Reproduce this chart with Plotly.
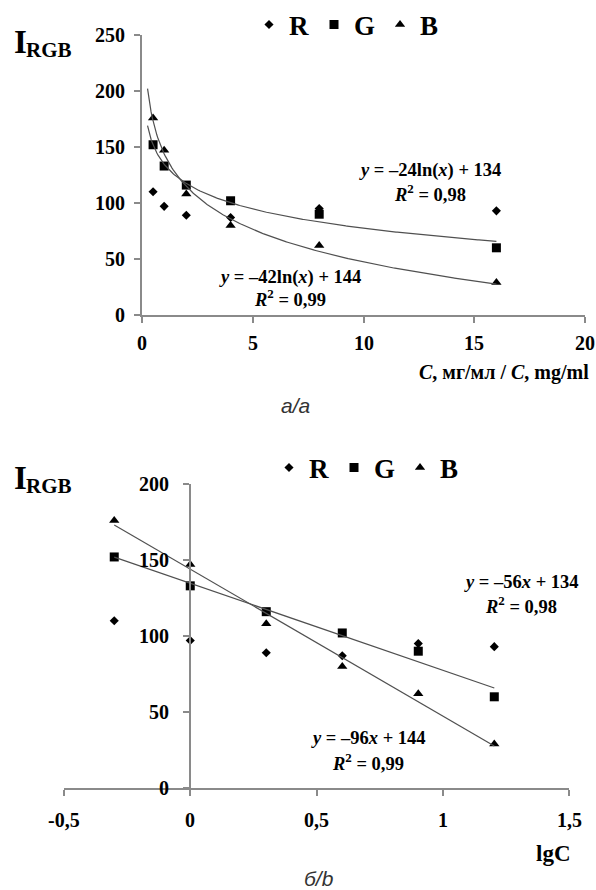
import numpy as np
import plotly.graph_objects as go

# ---------------- data ----------------
conc = [0.5, 1, 2, 4, 8, 16]                 # C, mg/ml
R_vals = [110, 97, 89, 87, 95, 93]
G_vals = [152, 133, 116, 102, 90, 60]
B_vals = [176, 147, 108, 80, 62, 29]

top_x_ticks = [0, 5, 10, 15, 20]
top_y_ticks = [0, 50, 100, 150, 200, 250]
bot_x_ticks = [-0.5, 0, 0.5, 1, 1.5]
bot_x_labels = ["-0,5", "0", "0,5", "1", "1,5"]
bot_y_ticks = [0, 50, 100, 150, 200]

series_names = ["R", "G", "B"]
series_vals = [R_vals, G_vals, B_vals]
symbols = ["diamond", "square", "triangle-up"]
sizes = [7, 9, 9]

W, H = 596, 890
SERIF = "Liberation Serif"
TICK_SIZE = 20

def px_x(p):
    return p / W

def px_y(p):
    return 1 - p / H

lg_conc = np.log10(conc)
ln_conc = np.log(conc)

fig = go.Figure()

# ---------------- top chart: I vs C ----------------
for name, vals, sym, sz in zip(series_names, series_vals, symbols, sizes):
    fig.add_trace(go.Scatter(
        x=conc, y=vals, mode="markers", name="<b>%s</b>" % name,
        marker=dict(symbol=sym, size=sz, color="black"),
        xaxis="x", yaxis="y", legend="legend", cliponaxis=False))

curve_x = np.linspace(0.25, 16, 300)
for vals in (G_vals, B_vals):
    k, b = np.polyfit(ln_conc, vals, 1)
    fig.add_trace(go.Scatter(
        x=curve_x, y=k * np.log(curve_x) + b, mode="lines",
        line=dict(color="#505050", width=1.2), showlegend=False,
        hoverinfo="skip", xaxis="x", yaxis="y"))

# ---------------- bottom chart: I vs lgC ----------------
for name, vals, sym, sz in zip(series_names, series_vals, symbols, sizes):
    fig.add_trace(go.Scatter(
        x=lg_conc, y=vals, mode="markers", name="<b>%s</b>" % name,
        marker=dict(symbol=sym, size=sz, color="black"),
        xaxis="x2", yaxis="y2", legend="legend2", cliponaxis=False))

line_x = np.array([lg_conc.min(), lg_conc.max()])
for vals in (G_vals, B_vals):
    k, b = np.polyfit(lg_conc, vals, 1)
    fig.add_trace(go.Scatter(
        x=line_x, y=k * line_x + b, mode="lines",
        line=dict(color="#505050", width=1.2), showlegend=False,
        hoverinfo="skip", xaxis="x2", yaxis="y2"))

def axis_common():
    return dict(
        showgrid=False, zeroline=False, showline=True, linecolor="#8a8a8a",
        linewidth=1.5, ticks="outside", ticklen=6, tickcolor="#8a8a8a",
        tickwidth=1.5, showticklabels=False,
    )

TOP_X0, TOP_X1, TOP_Y0, TOP_Y1 = 142, 585, 315, 35
BOT_X0, BOT_X1, BOT_Y0, BOT_Y1, BOT_YAX = 64, 569, 788, 484, 190

fig.update_layout(
    width=W, height=H, margin=dict(l=0, r=0, t=0, b=0),
    paper_bgcolor="white", plot_bgcolor="white",
    font=dict(family=SERIF, color="black"),
    xaxis=dict(domain=[px_x(TOP_X0), px_x(TOP_X1)], range=[0, 20], anchor="y",
               tickvals=top_x_ticks, **axis_common()),
    yaxis=dict(domain=[px_y(TOP_Y0), px_y(TOP_Y1)], range=[0, 250], anchor="x",
               tickvals=top_y_ticks, **axis_common()),
    xaxis2=dict(domain=[px_x(BOT_X0), px_x(BOT_X1)], range=[-0.5, 1.5], anchor="y2",
                tickvals=bot_x_ticks, **axis_common()),
    yaxis2=dict(domain=[px_y(BOT_Y0), px_y(BOT_Y1)], range=[0, 200], anchor="free",
                position=px_x(BOT_YAX), tickvals=bot_y_ticks, **axis_common()),
    legend=dict(orientation="h", x=px_x(249), y=px_y(25), xanchor="left",
                yanchor="middle", itemwidth=30, bgcolor="rgba(0,0,0,0)",
                font=dict(family=SERIF, size=27, color="black")),
    legend2=dict(orientation="h", x=px_x(269), y=px_y(468), xanchor="left",
                 yanchor="middle", itemwidth=30, bgcolor="rgba(0,0,0,0)",
                 font=dict(family=SERIF, size=27, color="black")),
    showlegend=True,
)

def ann(text, x, y, size, xanchor="center", family=SERIF, color="black",
        xref="paper", yref="paper"):
    fig.add_annotation(text=text, x=x, y=y, xref=xref, yref=yref,
                       xanchor=xanchor, yanchor="middle", showarrow=False,
                       font=dict(family=family, size=size, color=color))

# tick labels (placed on the axes' own scales)
for v in top_y_ticks:
    ann("<b>%d</b>" % v, px_x(127), v, TICK_SIZE, xanchor="right", yref="y")
for v in top_x_ticks:
    ann("<b>%d</b>" % v, v, px_y(343), TICK_SIZE, xref="x")
for v in bot_y_ticks:
    ann("<b>%d</b>" % v, px_x(171), v, TICK_SIZE, xanchor="right", yref="y2")
for v, lab in zip(bot_x_ticks, bot_x_labels):
    ann("<b>%s</b>" % lab, v, px_y(820), TICK_SIZE, xref="x2")

# axis "titles"
for y0 in (42, 478):
    ann("<b>I</b>", px_x(12), px_y(y0), 33, xanchor="left")
    ann("<b>RGB</b>", px_x(24), px_y(y0 + 8), 21, xanchor="left")

ann("<b><i>C</i>, мг/мл / <i>C</i>, mg/ml</b>", px_x(591), px_y(372), 20, xanchor="right")
ann("<b>lgC</b>", px_x(573), px_y(853), 23, xanchor="right")

# equations
EQ = 18.5
eqs = [
    ("<b><i>y</i> = –24ln(<i>x</i>) + 134</b>", 430, 170),
    ("<b><i>R</i><sup>2</sup> = 0,98</b>", 430, 193),
    ("<b><i>y</i> = –42ln(<i>x</i>) + 144</b>", 290, 277),
    ("<b><i>R</i><sup>2</sup> = 0,99</b>", 290, 298),
    ("<b><i>y</i> = –56<i>x</i> + 134</b>", 521, 582),
    ("<b><i>R</i><sup>2</sup> = 0,98</b>", 521, 605),
    ("<b><i>y</i> = –96<i>x</i> + 144</b>", 368, 738),
    ("<b><i>R</i><sup>2</sup> = 0,99</b>", 368, 762),
]
for t, x, y in eqs:
    ann(t, px_x(x), px_y(y), EQ)

# panel captions
ann("<i>а/а</i>", px_x(295), px_y(405), 21, family="Liberation Sans", color="#333")
ann("<i>б/b</i>", px_x(319), px_y(878), 21, family="Liberation Sans", color="#333")

fig.write_html("out.html")
